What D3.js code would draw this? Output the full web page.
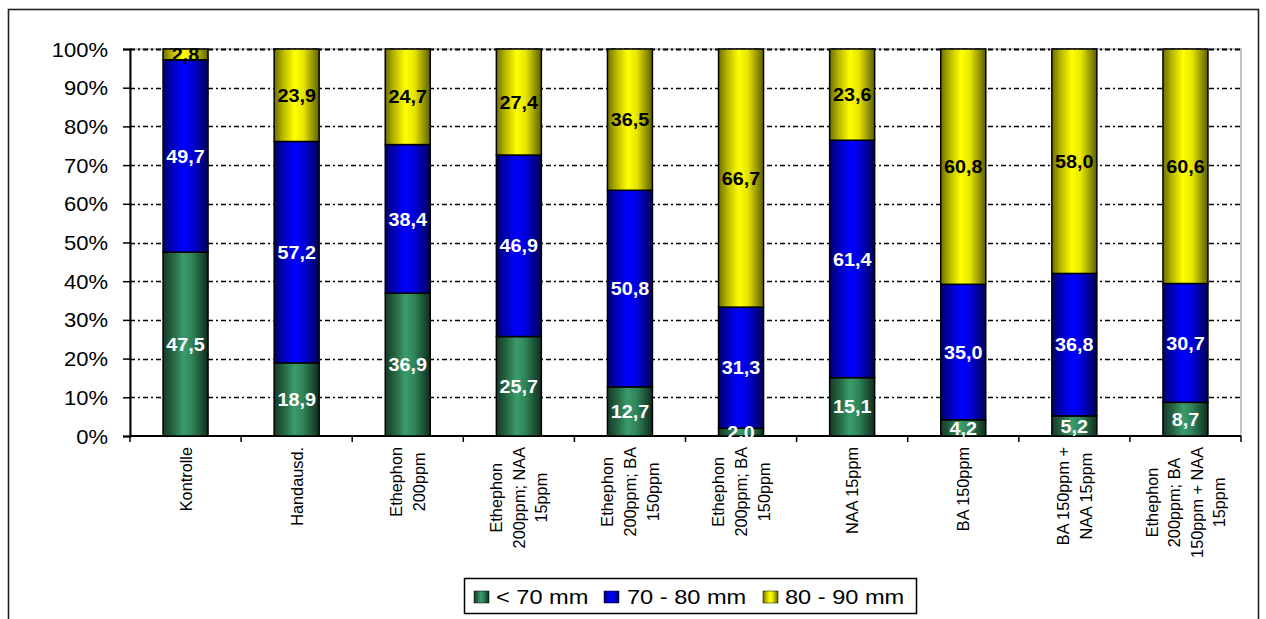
<!DOCTYPE html>
<html>
<head>
<meta charset="utf-8">
<script src="https://cdn.jsdelivr.net/npm/d3@7"></script>
<style>
  html, body { margin: 0; padding: 0; background: #fff; }
  svg { display: block; }
  text { font-family: "Liberation Sans", Arial, sans-serif; }
</style>
</head>
<body>
<svg id="chart" width="1266" height="619"></svg>
<script>
// ---- data ----
const categories = [
  ["Kontrolle"],
  ["Handausd."],
  ["Ethephon", "200ppm"],
  ["Ethephon", "200ppm; NAA", "15ppm"],
  ["Ethephon", "200ppm; BA", "150ppm"],
  ["Ethephon", "200ppm; BA", "150ppm"],
  ["NAA 15ppm"],
  ["BA 150ppm"],
  ["BA 150ppm +", "NAA 15ppm"],
  ["Ethephon", "200ppm; BA", "150ppm + NAA", "15ppm"]
];
const seriesNames = ["< 70 mm", "70 - 80 mm", "80 - 90 mm"];
const below70 = [47.5, 18.9, 36.9, 25.7, 12.7, 2.0, 15.1, 4.2, 5.2, 8.7];
const from70to80 = [49.7, 57.2, 38.4, 46.9, 50.8, 31.3, 61.4, 35.0, 36.8, 30.7];
const from80to90 = [2.8, 23.9, 24.7, 27.4, 36.5, 66.7, 23.6, 60.8, 58.0, 60.6];
const yTicks = [0, 0.1, 0.2, 0.3, 0.4, 0.5, 0.6, 0.7, 0.8, 0.9, 1.0];

// ---- layout ----
const svg = d3.select("#chart");
const plot = { left: 130, right: 1241, top: 49, bottom: 436 };
const rows = categories.map((c, i) => ({
  idx: i, s0: below70[i], s1: from70to80[i], s2: from80to90[i]
}));
const keys = ["s0", "s1", "s2"];
const stack = d3.stack().keys(keys).offset(d3.stackOffsetExpand);
const stacked = stack(rows);

const x = d3.scaleBand()
  .domain(d3.range(categories.length))
  .range([plot.left, plot.right])
  .paddingInner(0.595).paddingOuter(0.2975);
const xCat = d3.scaleBand()
  .domain(d3.range(categories.length))
  .range([plot.left, plot.right]).padding(0);
const y = d3.scaleLinear().domain([0, 1]).range([plot.bottom, plot.top]);

// gradients
const defs = svg.append("defs");
const grads = [
  { id: "g0", stops: [["0%", "#173a28"], ["20%", "#24613f"], ["45%", "#3a9c6b"], ["65%", "#2f8358"], ["100%", "#112c1e"]] },
  { id: "g1", stops: [["0%", "#00006a"], ["20%", "#0000b8"], ["45%", "#0000ff"], ["65%", "#0000dc"], ["100%", "#000058"]] },
  { id: "g2", stops: [["0%", "#6e6e00"], ["20%", "#b8b800"], ["45%", "#ffff00"], ["65%", "#e6e600"], ["100%", "#5e5e00"]] }
];
grads.forEach(g => {
  const lg = defs.append("linearGradient").attr("id", g.id)
    .attr("x1", "0").attr("x2", "1").attr("y1", "0").attr("y2", "0");
  g.stops.forEach(s => lg.append("stop").attr("offset", s[0]).attr("stop-color", s[1]));
});
const labelColors = ["#ffffff", "#ffffff", "#000000"];

// outer border
svg.append("rect")
  .attr("x", 8.5).attr("y", 9.5).attr("width", 1250).attr("height", 640)
  .attr("fill", "none").attr("stroke", "#222").attr("stroke-width", 1.6);

// plot area border (gray)
svg.append("rect")
  .attr("x", plot.left).attr("y", plot.top)
  .attr("width", plot.right - plot.left).attr("height", plot.bottom - plot.top)
  .attr("fill", "none").attr("stroke", "#8a8a8a").attr("stroke-width", 1);

// gridlines
svg.append("g").selectAll("line")
  .data(yTicks.filter(t => t > 0))
  .join("line")
  .attr("x1", plot.left).attr("x2", plot.right)
  .attr("y1", d => Math.round(y(d)) + 0.5).attr("y2", d => Math.round(y(d)) + 0.5)
  .attr("stroke", "#000").attr("stroke-width", d => d === 1 ? 2 : 1.3)
  .attr("stroke-dasharray", "5,3,2,3");

// y axis
const yAxis = d3.axisLeft(y).tickValues(yTicks).tickSize(7).tickPadding(0)
  .tickFormat(d => Math.round(d * 100) + "%");
const yg = svg.append("g").attr("transform", `translate(${plot.left},0)`).call(yAxis);
yg.select(".domain").attr("stroke", "#000").attr("stroke-width", 2);
yg.selectAll(".tick line").attr("stroke", "#000").attr("stroke-width", 1.5);
yg.selectAll(".tick text")
  .attr("font-size", 20).attr("fill", "#000")
  .attr("x", 0).attr("dy", "0.35em")
  .attr("transform", "translate(-22,0) scale(1.1,1)")
  .style("font-family", "'Liberation Sans', Arial, sans-serif");

// x axis line + ticks at category boundaries
const xg = svg.append("g");
xg.append("line")
  .attr("x1", plot.left).attr("x2", plot.right)
  .attr("y1", plot.bottom).attr("y2", plot.bottom)
  .attr("stroke", "#000").attr("stroke-width", 2);
xg.selectAll("line.tk")
  .data(d3.range(categories.length + 1))
  .join("line").attr("class", "tk")
  .attr("x1", i => i < categories.length ? xCat(i) : plot.right)
  .attr("x2", i => i < categories.length ? xCat(i) : plot.right)
  .attr("y1", plot.bottom).attr("y2", plot.bottom + 6)
  .attr("stroke", "#000").attr("stroke-width", 1.5);

// bars
const barG = svg.append("g");
stacked.forEach((layer, si) => {
  barG.append("g").selectAll("rect")
    .data(layer)
    .join("rect")
    .attr("x", d => x(d.data.idx))
    .attr("width", x.bandwidth())
    .attr("y", d => y(d[1]))
    .attr("height", d => y(d[0]) - y(d[1]))
    .attr("fill", `url(#g${si})`)
    .attr("stroke", "#000").attr("stroke-width", 1.5);
});

// value labels
stacked.forEach((layer, si) => {
  barG.append("g").selectAll("text")
    .data(layer)
    .join("text")
    .attr("transform", d => `translate(${x(d.data.idx) + x.bandwidth() / 2},${(y(d[0]) + y(d[1])) / 2}) scale(1.07,1)`)
    .attr("text-anchor", "middle")
    .attr("dy", "0.36em")
    .attr("font-size", 18.5).attr("font-weight", "bold")
    .attr("fill", labelColors[si])
    .text(d => d.data[keys[si]].toFixed(1).replace(".", ","));
});

// category labels (rotated, multi-line)
const lineGap = 22.6;
const labelTop = 447;
categories.forEach((lines, i) => {
  const cx = xCat(i) + xCat.bandwidth() / 2;
  const g = svg.append("g");
  const texts = g.selectAll("text").data(lines).join("text")
    .attr("font-size", 16.3).attr("fill", "#000")
    .attr("text-anchor", "middle")
    .text(d => d);
  let maxW = 0;
  texts.each(function () { maxW = Math.max(maxW, this.getComputedTextLength()); });
  const n = lines.length;
  texts.attr("transform", (d, j) => {
    const lx = cx + (j - (n - 1) / 2) * lineGap;
    return `translate(${lx + 6},${labelTop + maxW / 2}) rotate(-90)`;
  });
});

// legend
const leg = svg.append("g");
leg.append("rect")
  .attr("x", 464.5).attr("y", 578.5).attr("width", 452).attr("height", 35)
  .attr("fill", "#fff").attr("stroke", "#000").attr("stroke-width", 1.5);
const legendItems = [
  { sw: 474, tx: 496 },
  { sw: 604, tx: 627 },
  { sw: 763, tx: 785 }
];
legendItems.forEach((it, i) => {
  leg.append("rect")
    .attr("x", it.sw).attr("y", 591).attr("width", 15).attr("height", 12)
    .attr("fill", `url(#g${i})`).attr("stroke", "#000").attr("stroke-width", 0.5);
  leg.append("text")
    .attr("transform", `translate(${it.tx},604) scale(1.18,1)`)
    .attr("font-size", 20).attr("fill", "#000")
    .text(seriesNames[i]);
});
</script>
</body>
</html>
